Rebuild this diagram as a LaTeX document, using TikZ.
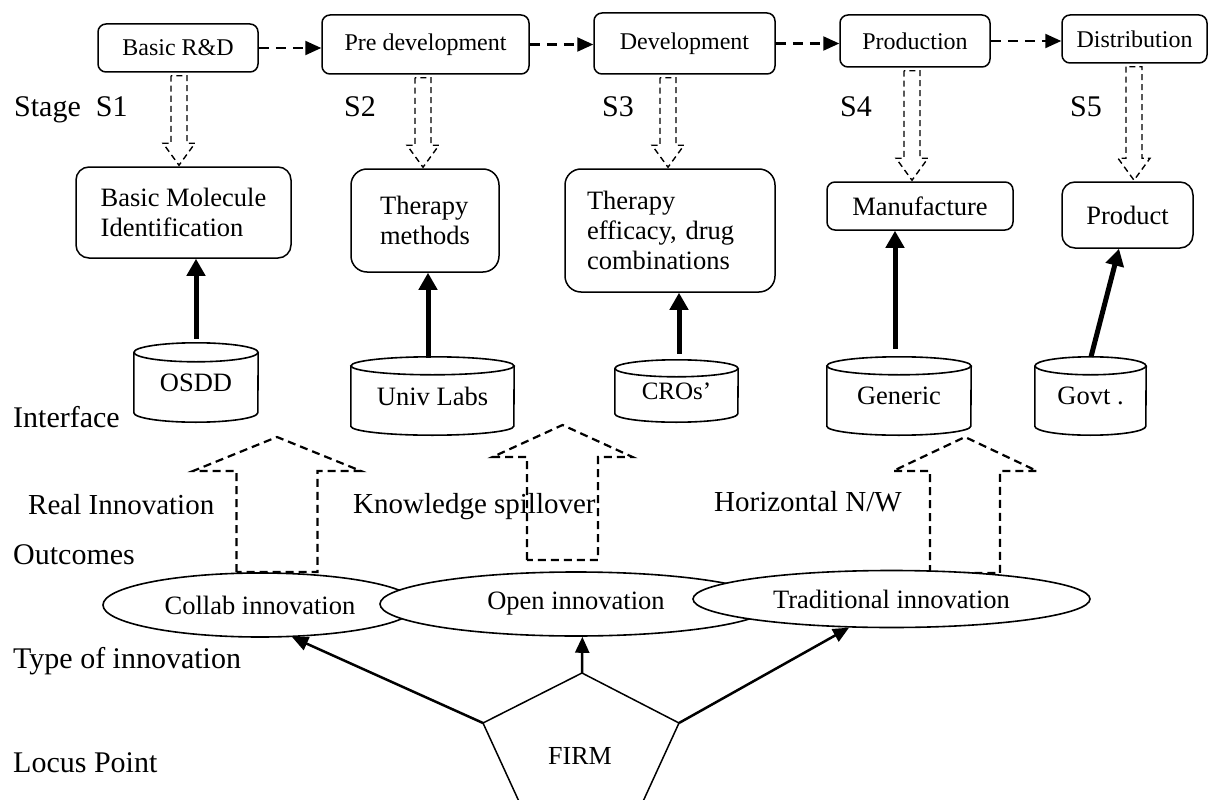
\documentclass[tikz,border=0pt]{standalone}
\usepackage{fontspec}
\setmainfont{Liberation Serif}
\usetikzlibrary{arrows.meta,shapes.geometric,calc}

\newcommand{\hollowdown}[4]{% #1 from node, #2 to node, #3 x, #4 name
  \path (#3,0) coordinate (#4x);
  \draw[hollow] ($(#4x |- #1.south)+(-8,3)$) -- ($(#4x |- #2.north)+(-8,-23)$)
    -- ($(#4x |- #2.north)+(-16,-23)$) -- ($(#4x |- #2.north)+(0,-1)$)
    -- ($(#4x |- #2.north)+(16,-23)$) -- ($(#4x |- #2.north)+(8,-23)$)
    -- ($(#4x |- #1.south)+(8,3)$) -- cycle;}
\newcommand{\bigup}[6]{% xc, tip, wing, bottom, halfshaft, halfwing
  \draw[bighollow] (#1-#5,#4) -- (#1-#5,#3) -- (#1-#6,#3) -- (#1,#2)
    -- (#1+#6,#3) -- (#1+#5,#3) -- (#1+#5,#4) -- cycle;}
\newcommand{\cylshape}[3]{% node, rx, ry
  \draw[cylline] ($(#1.north west)+(0,#3)$) -- ($(#1.south west)+(0,-#3)$)
    arc[start angle=180, end angle=360, x radius=#2pt, y radius=#3pt]
    -- ($(#1.north east)+(0,#3)$);
  \draw[cylline] ($(#1.north)+(0,#3)$) ellipse[x radius=#2pt, y radius=#3pt];}

\begin{document}
\begin{tikzpicture}[x=1pt,y=-1pt,
  stagebox/.style={draw, line width=1.5pt, rounded corners=8pt, inner sep=0pt, font=\fontsize{24}{28}\selectfont},
  resbox/.style={draw, line width=1.5pt, rounded corners=13pt, inner sep=0pt, align=left, font=\fontsize{26.5}{30}\selectfont},
  cylnode/.style={inner sep=0pt, font=\fontsize{26.5}{30}\selectfont},
  lbl/.style={anchor=base west, inner sep=0pt, font=\fontsize{30}{34}\selectfont},
  midlbl/.style={anchor=base west, inner sep=0pt, font=\fontsize{29}{33}\selectfont},
  flow/.style={line width=2.2pt, dash pattern=on 10pt off 7pt, -{Triangle[width=14pt,length=16pt]}},
  hollow/.style={line width=1.4pt, dash pattern=on 6pt off 4pt},
  bighollow/.style={line width=2.2pt, dash pattern=on 8pt off 5pt},
  feed/.style={line width=5pt, -{Triangle[width=18pt,length=17pt]}},
  oval/.style={ellipse, draw, fill=white, line width=1.6pt, inner sep=0pt, font=\fontsize{26.5}{30}\selectfont},
  firmarrow/.style={line width=2.5pt, -{Triangle[width=14pt,length=16pt]}},
  cylline/.style={line width=1.6pt}
]
\useasboundingbox (0,0) rectangle (1216,800);
\fill[white] (0,0) rectangle (1216,800);
\clip (0,0) rectangle (1216,800);

% stage boxes
\node[stagebox, minimum width=160pt, minimum height=48pt] (rd) at (178,48) {Basic R\&D};
\node[stagebox, minimum width=207pt, minimum height=59pt] (pd) at (425.5,44.5) {Pre development};
\node[stagebox, minimum width=181pt, minimum height=61pt] (dv) at (684.5,43.5) {Development};
\node[stagebox, minimum width=150pt, minimum height=52pt] (pr) at (915,41) {Production};
\node[stagebox, minimum width=145pt, minimum height=48pt] (ds) at (1134.5,39) {Distribution};

\draw[flow] (rd.east) -- (rd.east -| pd.west);
\draw[flow] (pd.east) -- (pd.east -| dv.west);
\draw[flow] (dv.east) -- (dv.east -| pr.west);
\draw[flow] (pr.east) -- (pr.east -| ds.west);

% stage labels
\node[lbl] (st1) at (14,117) {Stage~~S1};
\node[lbl] (st2) at (344,117) {S2};
\node[lbl] (st3) at (602,117) {S3};
\node[lbl] (st4) at (840,117) {S4};
\node[lbl] (st5) at (1070,117) {S5};

% result boxes
\node[resbox, minimum width=215pt, minimum height=91pt] (bm) at (183.5,212.5) {Basic Molecule\\Identification};
\node[resbox, minimum width=148pt, minimum height=103pt, rounded corners=16pt] (tm) at (425,220.5) {Therapy\\methods};
\node[resbox, minimum width=210pt, minimum height=123pt, text width=166pt, inner xsep=22pt, rounded corners=16pt] (te) at (670,230.5) {Therapy\\efficacy, drug\\combinations};
\node[resbox, minimum width=186pt, minimum height=48pt, rounded corners=8pt] (mf) at (920,206) {Manufacture};
\node[resbox, minimum width=131pt, minimum height=66pt] (pt) at (1127.5,215) {Product};

\hollowdown{rd}{bm}{179}{ha}
\hollowdown{pd}{tm}{423}{hb}
\hollowdown{dv}{te}{668}{hc}
\hollowdown{pr}{mf}{912}{hd}
\hollowdown{ds}{pt}{1134}{he}

% cylinders
\node[cylnode, minimum width=124pt, minimum height=79pt] (osdd) at (196,382.5) {OSDD};
\node[cylnode, minimum width=163pt, minimum height=78pt] (ul) at (432.5,396) {Univ Labs};
\node[cylnode, minimum width=123pt, minimum height=62pt, font=\fontsize{25}{30}\selectfont] (cro) at (676.5,391) {CROs’};
\node[cylnode, minimum width=144pt, minimum height=78pt] (gen) at (899,396) {Generic};
\node[cylnode, minimum width=111pt, minimum height=78pt] (gov) at (1090.5,396) {Govt .};
\cylshape{osdd}{62}{9.5}
\cylshape{ul}{81.5}{9}
\cylshape{cro}{61.5}{8.5}
\cylshape{gen}{72}{9}
\cylshape{gov}{55.5}{9}

% feed arrows
\coordinate (osa) at ($(osdd.north)+(0,-4)$);
\coordinate (ula) at ($(ul.north)+(-4.5,1)$);
\coordinate (croa) at ($(cro.north)+(2.5,-6)$);
\coordinate (gena) at ($(gen.north)+(-4,-8)$);
\coordinate (gova) at ($(gov.north)+(0.5,0)$);
\coordinate (pta) at ($(pt.south)+(-8.5,0)$);
\draw[feed] (osa) -- (osa |- bm.south);
\draw[feed] (ula) -- (ula |- tm.south);
\draw[feed] (croa) -- (croa |- te.south);
\draw[feed] (gena) -- (gena |- mf.south);
\draw[feed] (gova) -- (pta);

% side labels
\node[lbl] (lint) at (13,427) {Interface};
\node[midlbl] (lri) at (28,514) {Real Innovation};
\node[lbl] (lout) at (13,564) {Outcomes};
\node[midlbl] (lks) at (353,513) {Knowledge spillover};
\node[midlbl] (lhn) at (714,511) {Horizontal N/W};
\node[lbl] (ltype) at (13,668) {Type of innovation};
\node[lbl] (llocus) at (13,772) {Locus Point};

% big hollow arrows
\bigup{277}{437}{471}{572}{40.5}{84}
\bigup{562.5}{425}{457}{560}{35.5}{70}
\bigup{965}{437}{471}{573}{35}{72}

% innovation ellipses
\node[oval, minimum width=314pt, minimum height=64pt] (collab) at (260,605) {Collab innovation};
\node[oval, minimum width=392pt, minimum height=64pt] (open) at (576,604) {Open innovation};
\node[oval, minimum width=397pt, minimum height=57pt] (trad) at (891.5,599) {Traditional innovation};

% firm pentagon
\coordinate (pT) at (582,673);
\coordinate (pL) at (483,723);
\coordinate (pR) at (679,723);
\coordinate (pBL) at (522,808);
\coordinate (pBR) at (640,808);
\draw[line width=1.5pt, line join=miter] (pT) -- (pR) -- (pBR) -- (pBL) -- (pL) -- cycle;
\node[font=\fontsize{26}{30}\selectfont] (firm) at (580,756) {FIRM};

\draw[firmarrow] (pL) -- (collab.-45);
\draw[firmarrow] (pT) -- (open.-79);
\draw[firmarrow] (pR) -- (trad.-146);
\end{tikzpicture}
\end{document}
